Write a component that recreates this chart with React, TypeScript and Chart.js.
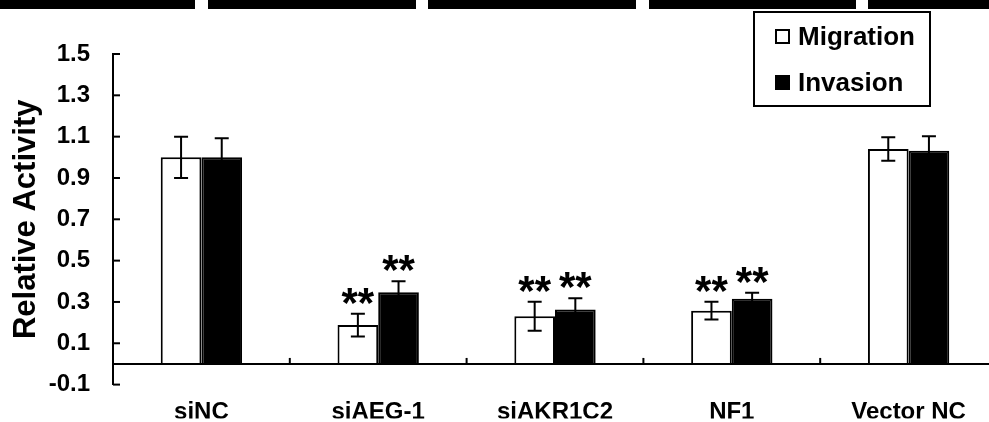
import React, { useEffect, useRef } from "react";
import { Chart, registerables } from "chart.js";

Chart.register(...registerables);

const categories = ["siNC", "siAEG-1", "siAKR1C2", "NF1", "Vector NC"];
const migration = [1.0, 0.188, 0.231, 0.258, 1.04];
const migrationErr = [0.1, 0.055, 0.07, 0.043, 0.057];
const invasion = [1.0, 0.347, 0.263, 0.316, 1.032];
const invasionErr = [0.092, 0.053, 0.055, 0.028, 0.07];
const migrationSig = ["", "**", "**", "**", ""];
const invasionSig = ["", "**", "**", "**", ""];
const yTicks = [-0.1, 0.1, 0.3, 0.5, 0.7, 0.9, 1.1, 1.3, 1.5];
const seriesNames = ["Migration", "Invasion"];

const FONT = "'Liberation Sans', Arial, sans-serif";

const decorPlugin = {
  id: "decor",
  afterDatasetsDraw(chart: any) {
    const ctx = chart.ctx;
    const x = chart.scales.x;
    const y = chart.scales.y;
    const area = chart.chartArea;
    ctx.save();
    ctx.strokeStyle = "#000";
    ctx.fillStyle = "#000";
    ctx.lineWidth = 2;
    // zero line
    const y0 = y.getPixelForValue(0);
    ctx.beginPath();
    ctx.moveTo(area.left, y0);
    ctx.lineTo(area.right, y0);
    ctx.stroke();
    // category separators (small upward ticks)
    for (let i = 0; i < categories.length - 1; i++) {
      const bx = (x.getPixelForValue(i) + x.getPixelForValue(i + 1)) / 2;
      ctx.beginPath();
      ctx.moveTo(bx, y0);
      ctx.lineTo(bx, y0 - 6);
      ctx.stroke();
    }
    // y axis inward ticks
    y.ticks.forEach((t: any) => {
      const ty = y.getPixelForValue(t.value);
      ctx.beginPath();
      ctx.moveTo(area.left, ty);
      ctx.lineTo(area.left + 7, ty);
      ctx.stroke();
    });
    // error bars + significance marks
    const errs = [migrationErr, invasionErr];
    const vals = [migration, invasion];
    const sigs = [migrationSig, invasionSig];
    chart.data.datasets.forEach((_: any, di: number) => {
      const meta = chart.getDatasetMeta(di);
      meta.data.forEach((el: any, i: number) => {
        const v = vals[di][i];
        const e = errs[di][i];
        const top = y.getPixelForValue(v + e);
        const bot = y.getPixelForValue(v - e);
        const cx = el.x;
        ctx.lineWidth = 2;
        ctx.strokeStyle = "#000";
        ctx.beginPath();
        ctx.moveTo(cx, top);
        ctx.lineTo(cx, bot);
        ctx.moveTo(cx - 7, top);
        ctx.lineTo(cx + 7, top);
        ctx.moveTo(cx - 7, bot);
        ctx.lineTo(cx + 7, bot);
        ctx.stroke();
        const s = sigs[di][i];
        if (s) {
          ctx.font = "bold 42px " + FONT;
          ctx.textAlign = "center";
          ctx.textBaseline = "alphabetic";
          const m = ctx.measureText(s);
          const center = top - 18;
          const base = center + (m.actualBoundingBoxAscent - m.actualBoundingBoxDescent) / 2;
          ctx.fillText(s, cx, base);
        }
      });
    });
    ctx.restore();
  },
  afterDraw(chart: any) {
    const ctx = chart.ctx;
    ctx.save();
    // legend box
    ctx.strokeStyle = "#000";
    ctx.lineWidth = 2;
    ctx.strokeRect(754, 12, 176, 94);
    const rows = [37, 83];
    chart.data.datasets.forEach((ds: any, i: number) => {
      const ry = rows[i];
      ctx.fillStyle = ds.backgroundColor;
      ctx.fillRect(776, ry - 7, 13, 13);
      ctx.lineWidth = 2;
      ctx.strokeStyle = "#000";
      ctx.strokeRect(776, ry - 7, 13, 13);
      ctx.fillStyle = "#000";
      ctx.font = "bold 26px " + FONT;
      ctx.textAlign = "left";
      ctx.textBaseline = "middle";
      ctx.fillText(ds.label, 798, ry + 1);
    });
    ctx.restore();
  },
};

const topBars: [number, number][] = [
  [0, 195],
  [208, 416],
  [428, 636],
  [649, 856],
  [868, 989],
];

export default function App() {
  const ref = useRef<HTMLCanvasElement | null>(null);
  useEffect(() => {
    if (!ref.current) return;
    const chart = new Chart(ref.current, {
      type: "bar",
      data: {
        labels: categories,
        datasets: [
          {
            label: seriesNames[0],
            data: migration,
            backgroundColor: "#ffffff",
            borderColor: "#000000",
            borderWidth: 2,
            borderSkipped: "start",
          },
          {
            label: seriesNames[1],
            data: invasion,
            backgroundColor: "#000000",
            borderColor: "#000000",
            borderWidth: 2,
            borderSkipped: "start",
          },
        ],
      },
      options: {
        responsive: false,
        animation: false,
        layout: { padding: { top: 54, right: 3, left: 0, bottom: 0 } },
        datasets: {
          bar: { categoryPercentage: 0.46, barPercentage: 1.0 },
        },
        plugins: {
          legend: { display: false },
          tooltip: { enabled: false },
        },
        scales: {
          x: {
            grid: { display: false },
            border: { display: false },
            ticks: {
              color: "#000",
              font: { family: FONT, size: 24, weight: "bold" },
              padding: 5,
              maxRotation: 0,
            },
            afterFit: (s: any) => {
              s.height = 34;
            },
          },
          y: {
            min: -0.1,
            max: 1.5,
            afterBuildTicks: (s: any) => {
              s.ticks = yTicks.map((v) => ({ value: v }));
            },
            afterFit: (s: any) => {
              s.width = 113;
            },
            grid: { display: false, drawTicks: false },
            border: { display: true, color: "#000", width: 2 },
            ticks: {
              color: "#000",
              padding: 23,
              font: { family: FONT, size: 24, weight: "bold" },
              callback: (v: any) => Number(v).toFixed(1),
            },
            title: {
              display: true,
              text: "Relative Activity",
              color: "#000",
              font: { family: FONT, size: 31, weight: "bold" },
              padding: { top: 8, bottom: 0 },
            },
          },
        },
      },
      plugins: [decorPlugin],
    });
    return () => chart.destroy();
  }, []);

  return (
    <div
      style={{
        position: "absolute",
        left: 0,
        top: 0,
        width: 989,
        height: 422,
        overflow: "hidden",
        background: "#fff",
      }}
    >
      {topBars.map(([a, b], i) => (
        <div
          key={i}
          style={{
            position: "absolute",
            left: a,
            top: 0,
            width: b - a,
            height: 9,
            background: "#000",
          }}
        />
      ))}
      <canvas
        ref={ref}
        width={1000}
        height={422}
        style={{ position: "absolute", left: 0, top: 0, width: 1000, height: 422 }}
      />
    </div>
  );
}
